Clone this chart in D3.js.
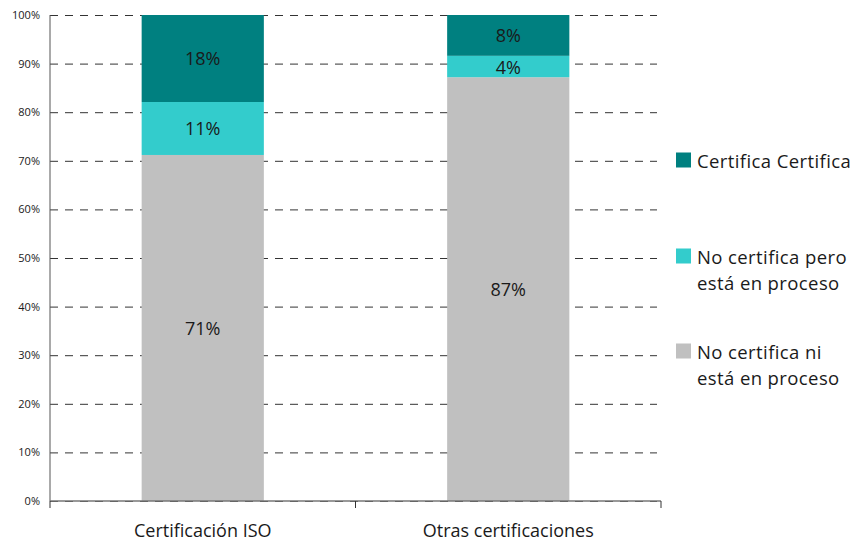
<!DOCTYPE html>
<html>
<head>
<meta charset="utf-8">
<script src="https://cdn.jsdelivr.net/npm/d3@7"></script>
<style>
  body { margin: 0; background: #fff; }
  svg text { font-family: "Open Sans", sans-serif; fill: #1a1a1a; }
</style>
</head>
<body>
<div id="chart"></div>
<script>
/***** data *****/
var categories = ["Certificación ISO", "Otras certificaciones"];
var seriesNames = ["No certifica ni está en proceso", "No certifica pero está en proceso", "Certifica Certifica"];
// legend lines, top to bottom
var legendLines = [["Certifica Certifica"], ["No certifica pero", "está en proceso"], ["No certifica ni", "está en proceso"]];
var noCertifica = [71.2, 87.2];
var enProceso = [10.9, 4.4];
var certifica = [17.9, 8.4];
var yTicks = [0, 10, 20, 30, 40, 50, 60, 70, 80, 90, 100];

var colors = {"No certifica ni está en proceso": "#c0c0c0",
  "No certifica pero está en proceso": "#33cccc",
  "Certifica Certifica": "#008080"};

//chart parameters
var W = 857, H = 542;
var margin = {top: 15, right: 196, bottom: 41, left: 50};
var width = W - margin.left - margin.right;
var height = H - margin.top - margin.bottom;

var svg = d3.select("#chart").append("svg")
  .attr("width", W)
  .attr("height", H);

var g = svg.append("g")
  .attr("transform", "translate(" + margin.left + "," + margin.top + ")");

//build rows for stacking
var rows = categories.map(function(c, i) {
  return {cat: c,
    "No certifica ni está en proceso": noCertifica[i],
    "No certifica pero está en proceso": enProceso[i],
    "Certifica Certifica": certifica[i]};
});
var stacked = d3.stack().keys(seriesNames)(rows);

//scales
var x = d3.scaleBand()
  .domain(categories)
  .range([0, width])
  .paddingInner(0)
  .paddingOuter(0);
var barW = x.bandwidth() * 0.4;

var y = d3.scaleLinear()
  .domain([0, 100])
  .range([height, 0]);

//y axis with dashed grid
var yAxis = d3.axisLeft(y)
  .tickValues(yTicks)
  .tickFormat(function(d) { return d + "%"; })
  .tickSizeInner(-(width - 4))
  .tickSizeOuter(0)
  .tickPadding(10);

var yg = g.append("g").attr("class", "y axis").call(yAxis);
yg.select(".domain").remove();
yg.selectAll(".tick line")
  .attr("stroke", "#333")
  .attr("stroke-dasharray", "8,7");
yg.selectAll(".tick text")
  .style("font-size", "11px")
  .attr("fill", "#1a1a1a");

//bars
var layer = g.selectAll(".layer")
  .data(stacked)
  .enter().append("g")
  .attr("fill", function(d) { return colors[d.key]; });

layer.selectAll("rect")
  .data(function(d) { return d; })
  .enter().append("rect")
  .attr("x", function(d) { return x(d.data.cat) + (x.bandwidth() - barW) / 2; })
  .attr("width", barW)
  .attr("y", function(d) { return y(d[1]); })
  .attr("height", function(d) { return y(d[0]) - y(d[1]); });

//value labels
layer.selectAll("text")
  .data(function(d) { return d; })
  .enter().append("text")
  .attr("x", function(d) { return x(d.data.cat) + x.bandwidth() / 2; })
  .attr("y", function(d) { return (y(d[0]) + y(d[1])) / 2; })
  .attr("text-anchor", "middle")
  .attr("dominant-baseline", "central")
  .style("font-size", "18px")
  .text(function(d) { return Math.round(d[1] - d[0]) + "%"; });

//left axis line
g.append("line")
  .attr("x1", 0).attr("x2", 0)
  .attr("y1", 0).attr("y2", height)
  .attr("stroke", "#555");

//x axis with ticks at category boundaries
var xg = g.append("g")
  .attr("transform", "translate(0," + height + ")");
xg.append("line")
  .attr("x1", 0).attr("x2", width)
  .attr("stroke", "#777").attr("stroke-width", 1.5);
xg.selectAll(".bound")
  .data(categories.concat(["end"]))
  .enter().append("line")
  .attr("x1", function(d, i) { return i * x.bandwidth(); })
  .attr("x2", function(d, i) { return i * x.bandwidth(); })
  .attr("y1", 0).attr("y2", 7)
  .attr("stroke", "#333");
xg.selectAll(".cat")
  .data(categories)
  .enter().append("text")
  .attr("x", function(d) { return x(d) + x.bandwidth() / 2; })
  .attr("y", 29)
  .attr("text-anchor", "middle")
  .attr("dominant-baseline", "central")
  .style("font-size", "18px")
  .text(function(d) { return d; });

//legend
var legendY = [160, 256, 351];
var legend = svg.selectAll(".legend")
  .data(seriesNames.slice().reverse())
  .enter().append("g")
  .attr("transform", function(d, i) { return "translate(676," + legendY[i] + ")"; });

legend.append("rect")
  .attr("x", 0).attr("y", -7.5)
  .attr("width", 15).attr("height", 15)
  .attr("fill", function(d) { return colors[d]; });

legend.append("text")
  .attr("x", 21)
  .style("font-size", "18.5px")
  .style("letter-spacing", "0.4px")
  .selectAll("tspan")
  .data(function(d, i) { return legendLines[i]; })
  .enter().append("tspan")
  .attr("x", 21)
  .attr("y", function(d, i) { return i * 26; })
  .attr("dominant-baseline", "central")
  .text(function(d) { return d; });
</script>
</body>
</html>
